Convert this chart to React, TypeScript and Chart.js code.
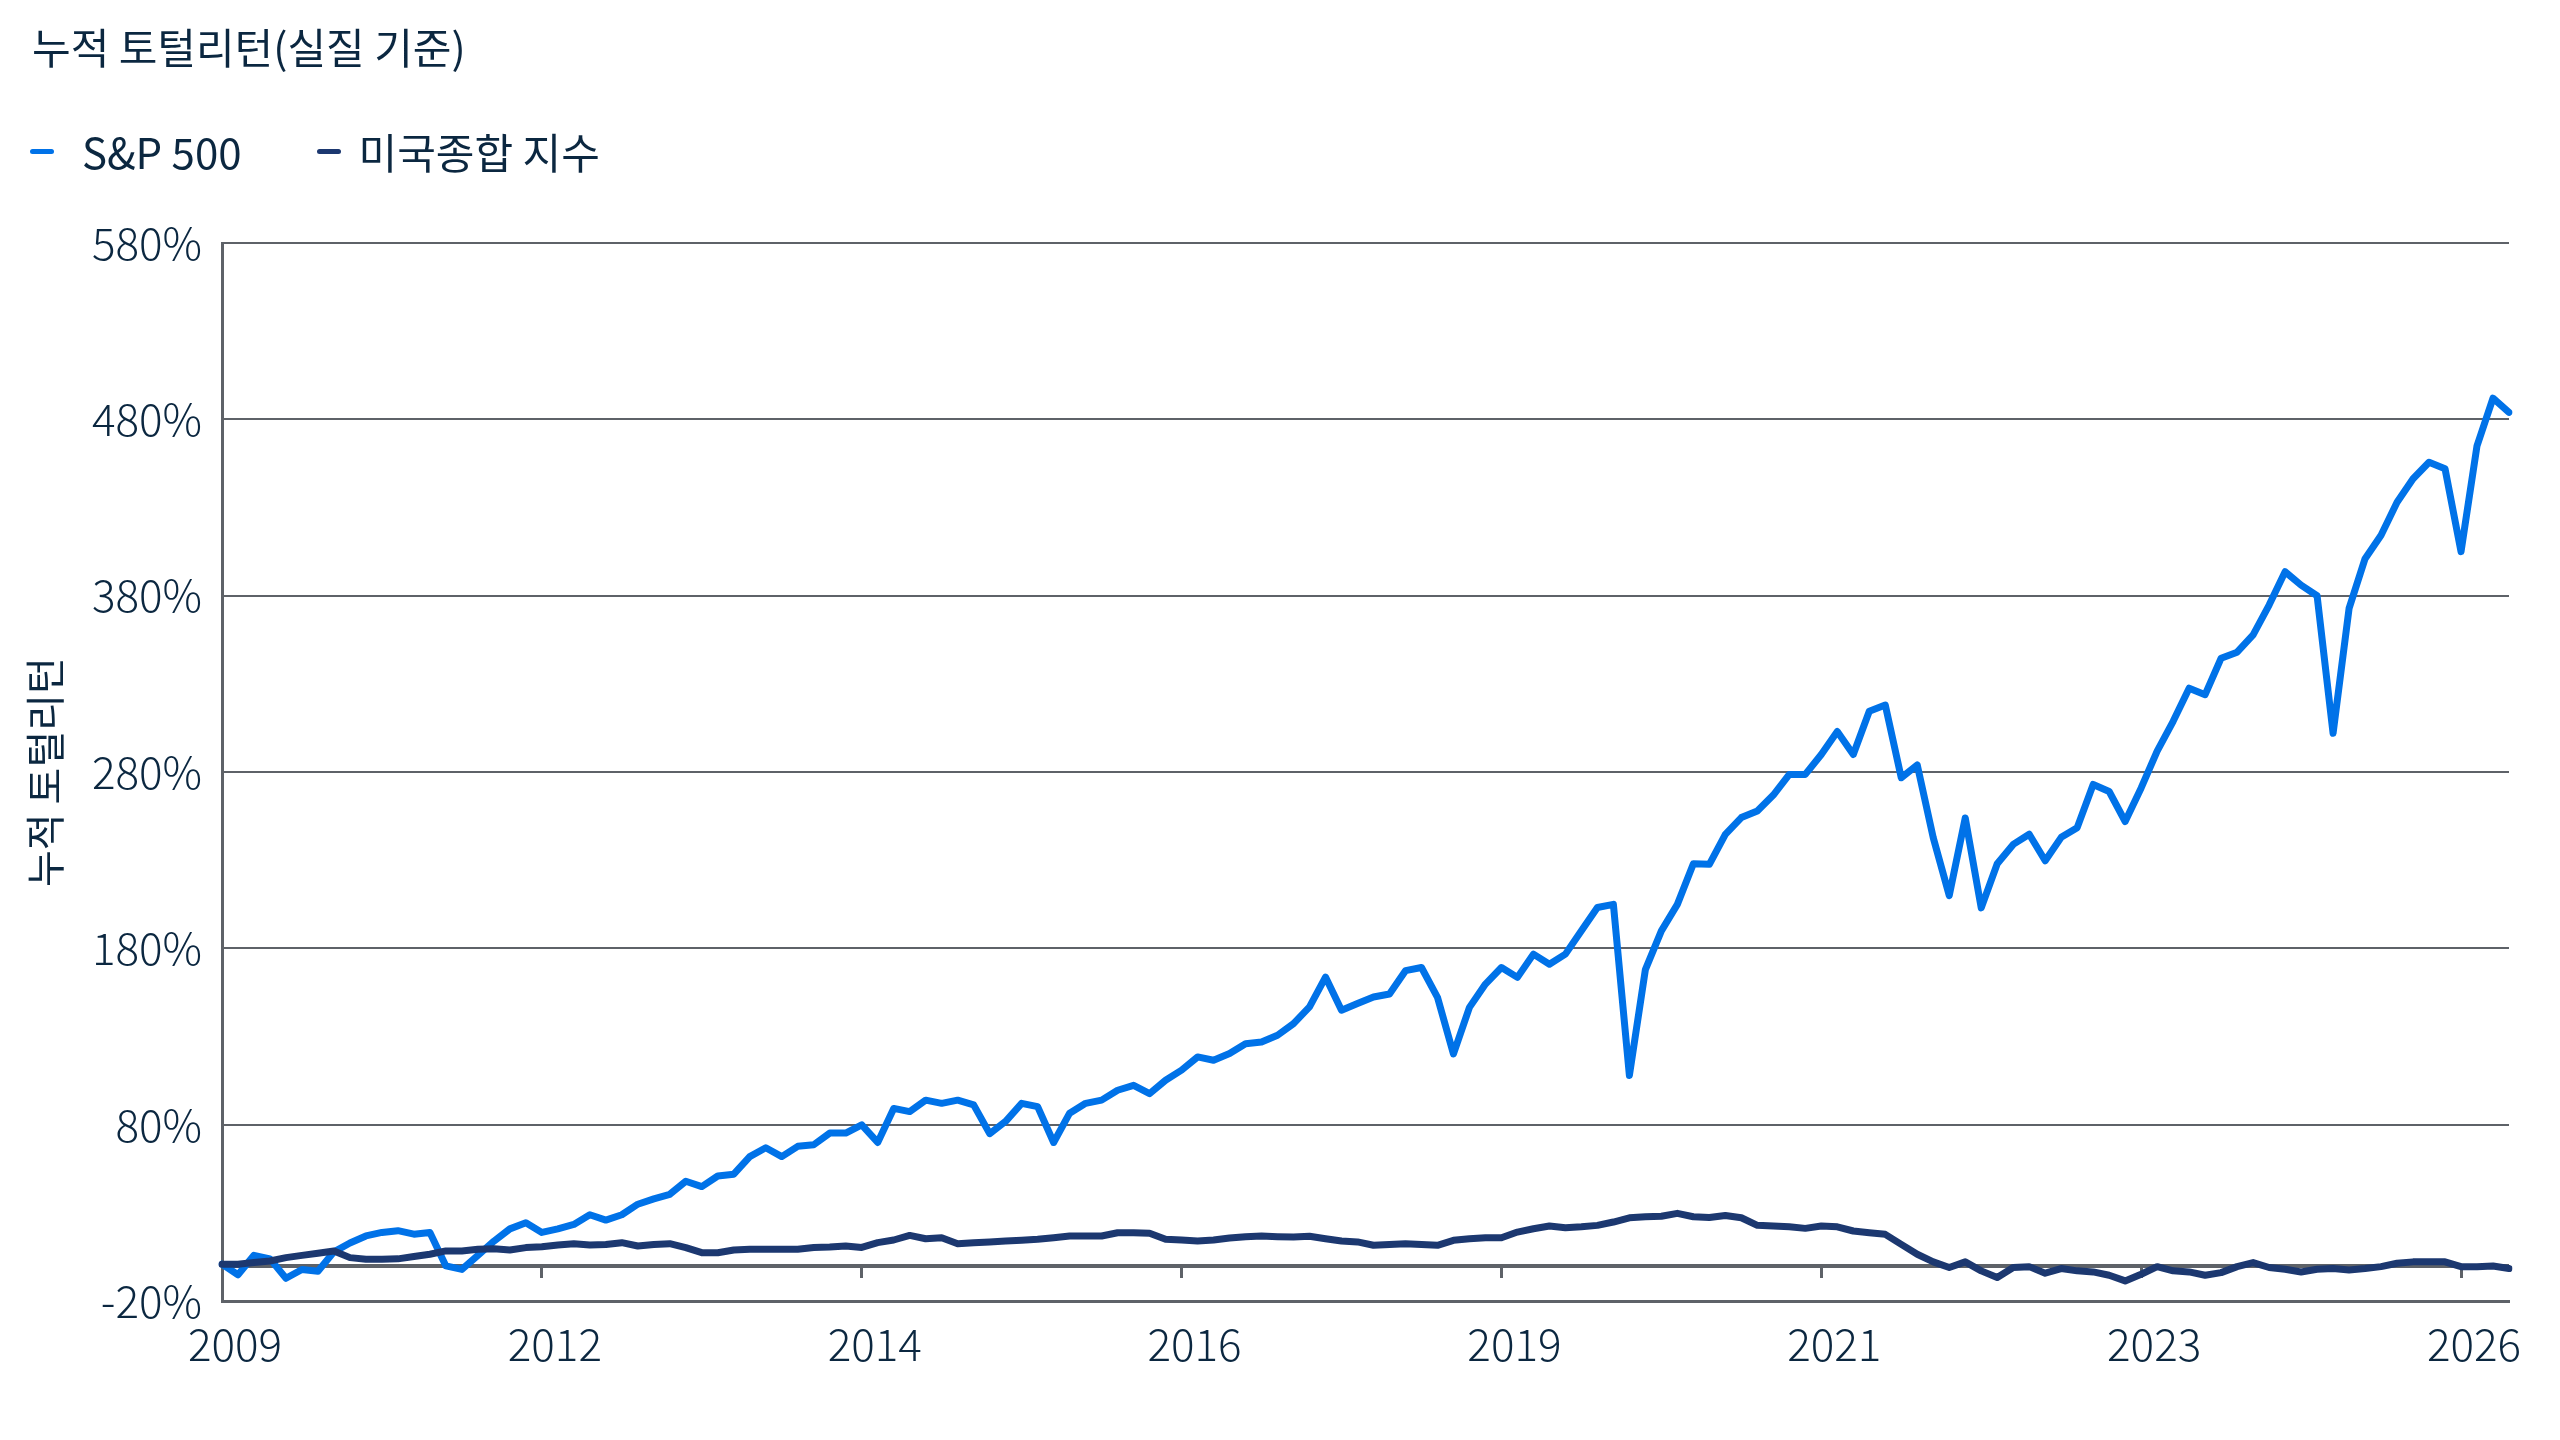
import { useEffect, useRef } from 'react';
import { Chart, registerables } from 'chart.js';

Chart.register(...registerables);

// x axis: evenly spaced samples, a year label every 20th sample
const tickYears = ['2009', '2012', '2014', '2016', '2019', '2021', '2023', '2026'];
const tickEvery = 20;
const sampleCount = 144;

const sp500 = [
  1, -5, 6, 4, -7, -2, -3, 8, 13, 17,
  19, 20, 18, 19, 0, -2, 6, 14, 21, 24.5,
  19, 21, 23.5, 29, 26, 29, 35, 38, 40.6, 48,
  45, 51, 52, 62, 67, 62, 67.8, 68.7, 75.3, 75.3,
  80, 70, 89.3, 87.5, 94, 92.2, 94, 91.3, 75, 82,
  92.2, 90.3, 70, 86.6, 92.2, 94, 99.6, 102.4, 97.7, 105.3,
  111, 118.5, 116.6, 120.4, 126, 127, 130.8, 137.4, 146.9, 163.8,
  145, 148.8, 152.5, 154.2, 167.4, 169.2, 152.3, 120.2, 146.6, 159.8,
  169.2, 163.6, 176.8, 171.1, 176.8, 190, 203.2, 205, 108, 168,
  190, 205, 228, 227.7, 244.7, 254.2, 258, 267, 278.7, 278.7,
  290, 303, 290, 314.5, 318, 276.8, 284, 242.8, 210, 254,
  203, 228, 239, 244.8, 229.7, 243, 248.5, 273, 269, 252,
  271, 291.9, 308.8, 327.6, 323.9, 344.6, 348, 357.8, 374.7, 393.6,
  386, 380, 302, 372.8, 401, 414.3, 433, 446.3, 455.7, 452,
  405, 465, 492, 484,
];

const usAggregate = [
  1, 1, 1.9, 2.8, 4.7, 6, 7.2, 8.5, 4.7, 3.8,
  3.8, 4, 5.3, 6.6, 8.5, 8.5, 9.4, 9.8, 9, 10.4,
  10.9, 11.9, 12.6, 11.9, 12.2, 13.2, 11.3, 12.2, 12.6, 10.4,
  7.5, 7.5, 9, 9.4, 9.4, 9.4, 9.4, 10.4, 10.7, 11.3,
  10.5, 13.2, 14.7, 17.3, 15.4, 16, 12.6, 13.2, 13.6, 14.1,
  14.5, 15.1, 16, 17, 17, 17, 18.8, 18.8, 18.5, 15.1,
  14.7, 14.1, 14.7, 15.8, 16.6, 17, 16.6, 16.4, 16.8, 15.4,
  14.1, 13.6, 11.7, 12.2, 12.6, 12.2, 11.7, 14.5, 15.4, 16,
  16, 19.2, 21.1, 22.6, 21.7, 22.2, 23, 24.9, 27.3, 27.9,
  28.2, 29.8, 27.9, 27.5, 28.6, 27.3, 23, 22.6, 22.2, 21.3,
  22.6, 22.2, 19.8, 18.8, 17.9, 12.2, 6.6, 2.3, -0.9, 2.3,
  -2.8, -6.6, -0.9, -0.4, -4.1, -1.5, -2.8, -3.4, -5.3, -8.5,
  -4.7, -0.4, -2.8, -3.4, -5.3, -3.8, -0.4, 1.9, -0.9, -1.9,
  -3.4, -1.9, -1.5, -2.3, -1.5, -0.4, 1.5, 2.3, 2.3, 2.3,
  -0.4, -0.4, 0, -1.5,
];

const seriesNames = ['S&P 500', '미국종합 지수'];
const seriesColors = ['#0072e8', '#1c3870'];

const chartTitle = '누적 토털리턴(실질 기준)';
const yAxisTitle = '누적 토털리턴';
const yMin = -20;
const yMax = 580;
const yStep = 100;

const labels = Array.from({ length: sampleCount }, (_, i) =>
  i % tickEvery === 0 && tickYears[i / tickEvery] ? tickYears[i / tickEvery] : ''
);

const textColor = '#0b2740';
const gridColor = '#5e6268';
const fontFamily = '"Noto Sans CJK KR", "Noto Sans", sans-serif';

function keepYearTicks(scale: any) {
  scale.ticks = scale.ticks.filter((t: any) => labels[t.value] !== '');
}

export default function App() {
  const chartRef = useRef<HTMLCanvasElement>(null);
  const chartInstanceRef = useRef<Chart | null>(null);

  useEffect(() => {
    if (!chartRef.current) return;
    const ctx = chartRef.current.getContext('2d');
    if (!ctx) return;

    if (chartInstanceRef.current) {
      chartInstanceRef.current.destroy();
    }

    chartInstanceRef.current = new Chart(ctx, {
      type: 'line',
      data: {
        labels,
        datasets: [
          {
            label: seriesNames[0],
            data: sp500,
            borderColor: seriesColors[0],
            borderWidth: 7,
            order: 1,
          },
          {
            label: seriesNames[1],
            data: usAggregate,
            borderColor: seriesColors[1],
            borderWidth: 7,
            order: 0,
          },
        ],
      },
      options: {
        animation: false,
        responsive: true,
        maintainAspectRatio: false,
        layout: { padding: { left: 0, right: 51, top: 243, bottom: 52 } },
        elements: {
          point: { radius: 0, hoverRadius: 0 },
          line: { tension: 0, borderJoinStyle: 'round', borderCapStyle: 'round' },
        },
        plugins: {
          legend: { display: false },
          tooltip: { enabled: false },
        },
        scales: {
          x: {
            type: 'category',
            grid: { display: false, drawTicks: false },
            border: { display: true, color: gridColor, width: 3 },
            ticks: {
              autoSkip: false,
              maxRotation: 0,
              padding: 17,
              labelOffset: 13,
              color: textColor,
              font: { family: fontFamily, size: 44, weight: 300 },
            },
            afterBuildTicks: keepYearTicks,
          },
          // tick marks hanging below the 0% line
          xZero: {
            type: 'category',
            axis: 'x',
            position: { y: 0 },
            grid: {
              display: true,
              drawOnChartArea: false,
              drawTicks: true,
              tickLength: 12,
              color: gridColor,
              lineWidth: 3,
            },
            border: { display: false },
            ticks: { display: false, autoSkip: false },
            afterBuildTicks: keepYearTicks,
          },
          y: {
            min: yMin,
            max: yMax,
            ticks: {
              stepSize: yStep,
              padding: 20,
              color: textColor,
              font: { family: fontFamily, size: 44, weight: 300 },
              callback: (v: any) => (v === 0 ? '' : `${v}%`),
            },
            afterBuildTicks: (scale: any) => {
              scale.ticks.push({ value: 0 });
              scale.ticks.sort((a: any, b: any) => a.value - b.value);
            },
            grid: {
              color: gridColor,
              drawTicks: false,
              lineWidth: (c: any) => (c.tick && c.tick.value === 0 ? 4 : 2),
            },
            border: { display: true, color: gridColor, width: 3 },
            title: {
              display: true,
              text: yAxisTitle,
              color: textColor,
              font: { family: fontFamily, size: 40 },
              padding: { top: 21, bottom: 0 },
            },
            afterFit: (scale: any) => {
              scale.width = 222;
            },
          },
        } as any,
      },
    });

    return () => {
      if (chartInstanceRef.current) {
        chartInstanceRef.current.destroy();
        chartInstanceRef.current = null;
      }
    };
  }, []);

  return (
    <div
      style={{
        position: 'absolute',
        left: 0,
        top: 0,
        width: 2560,
        height: 1440,
        overflow: 'hidden',
        background: '#ffffff',
        fontFamily,
        color: textColor,
      }}
    >
      <canvas ref={chartRef} />
      <div style={{ position: 'absolute', left: 32, top: 21, fontSize: 42, lineHeight: '50px' }}>
        {chartTitle}
      </div>
      <div
        style={{
          position: 'absolute',
          left: 30,
          top: 126,
          fontSize: 42,
          lineHeight: '50px',
          display: 'flex',
          alignItems: 'center',
        }}
      >
        {seriesNames.map((name, i) => (
          <div key={name} style={{ display: 'flex', alignItems: 'center', marginLeft: i === 0 ? 0 : 75 }}>
            <span
              style={{
                display: 'inline-block',
                width: 24,
                height: 5,
                borderRadius: 2.5,
                background: seriesColors[i],
                marginRight: i === 0 ? 28 : 18,
              }}
            />
            <span>{name}</span>
          </div>
        ))}
      </div>
    </div>
  );
}
